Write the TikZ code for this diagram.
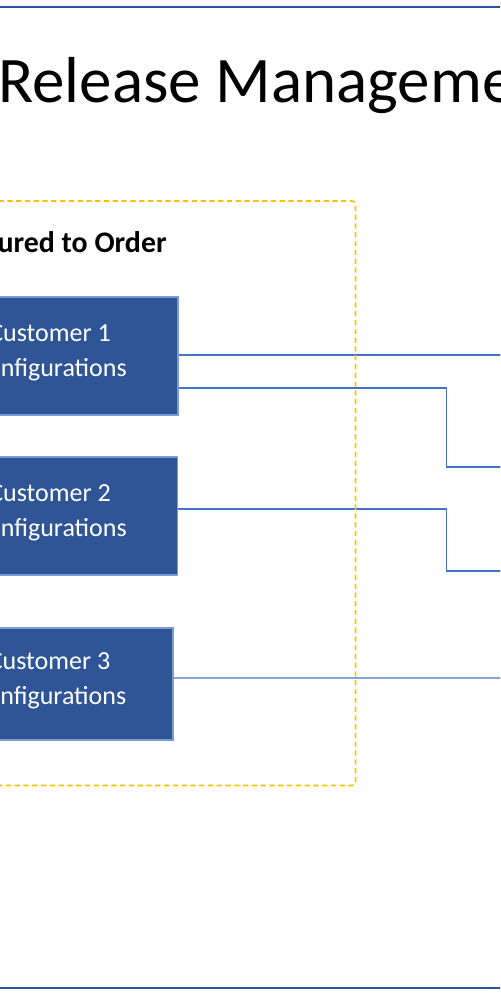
\documentclass[tikz,border=0pt]{standalone}
\usepackage{fontspec}
\setmainfont{Carlito}
\usetikzlibrary{arrows}
\definecolor{cfgblue}{HTML}{2F5597}
\definecolor{linkblue}{HTML}{4472C4}
\definecolor{cfgorange}{HTML}{FFC000}
\tikzstyle{every picture}=[x=0.02cm, y=-0.02cm]
\tikzstyle{every node}=[font=\fontsize{14.8}{19.9}\selectfont]
\tikzstyle{customer}=[draw=linkblue!70, fill=cfgblue, text=white, rectangle,
                      align=center, inner sep=0pt, text depth=0.2cm, line width=0.6pt]
\tikzstyle{link}=[draw=linkblue, line width=0.8pt]
\tikzstyle{rule}=[draw=cfgblue, line width=1.2pt]
\tikzstyle{group}=[draw=cfgorange, line width=0.9pt, dash pattern=on 3pt off 2pt, rounded corners=2pt]

\begin{document}
\begin{tikzpicture}
\useasboundingbox (0,0) rectangle (500,1000);
\clip (0,0) rectangle (500,1000);

\coordinate (TopL) at (-5,7);
\coordinate (TopR) at (505,7);
\coordinate (BotL) at (-5,988);
\coordinate (BotR) at (505,988);

\node[anchor=base west, inner sep=0pt, font=\fontsize{37}{44}\selectfont] (Title)
  at (-2,103) {Release Management};

\node[anchor=base east, inner sep=0pt, font=\bfseries\fontsize{17}{20}\selectfont] (CtoLabel)
  at (167,253) {Configured to Order};

\node[customer, minimum width=5.12cm, minimum height=2.36cm] (Cust1) at (50,356)
  {Customer 1\\Configurations};
\node[customer, minimum width=5.1cm, minimum height=2.36cm] (Cust2) at (50,516)
  {Customer 2\\Configurations};
\node[customer, minimum width=4.94cm, minimum height=2.24cm] (Cust3) at (49.5,684)
  {Customer 3\\Configurations};

\coordinate (OutA) at (510,355);
\coordinate (OutB) at (510,467);
\coordinate (OutC) at (510,571);
\coordinate (OutD) at (510,678);
\coordinate (Jog) at (446.5,0);

\draw[rule] (TopL) -- (TopR);
\draw[rule] (BotL) -- (BotR);

\draw[link] ([yshift=0.02cm] Cust1.east) -- (OutA);
\draw[link] ([yshift=-0.64cm] Cust1.east) -| (Jog |- OutB) -- (OutB);
\draw[link] ([yshift=0.14cm] Cust2.east) -| (Jog |- OutC) -- (OutC);
\draw[link] ([yshift=0.12cm] Cust3.east) -- (OutD);

\draw[group] (-100,201) rectangle (355.5,785.5);

\end{tikzpicture}
\end{document}
